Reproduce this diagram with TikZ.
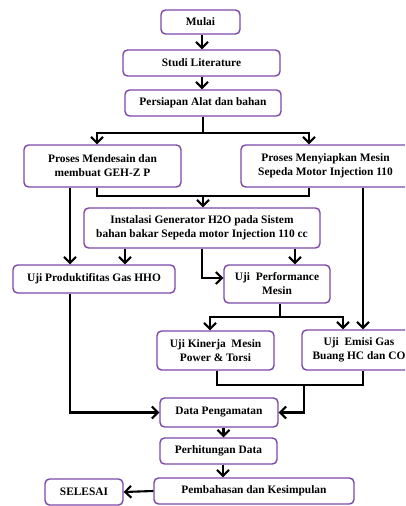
\documentclass[tikz,border=0pt]{standalone}
\usepackage{fontspec}
\setmainfont{Liberation Serif}
\usetikzlibrary{arrows.meta}
\definecolor{boxpurple}{HTML}{7D47A8}
\begin{document}
\begin{tikzpicture}[x=1pt,y=-1pt,
 box/.style={draw=boxpurple, line width=1.4pt, rounded corners=4.5pt, fill=white, align=center,
   font=\bfseries\fontsize{11.4}{14}\selectfont, inner sep=1pt},
 conn/.style={line width=2.1pt, -{Straight Barb[length=6pt,width=12pt,line width=2.1pt]}},
 plain/.style={line width=2.1pt}]
\clip (0,0) rectangle (405,506);
\useasboundingbox (0,0) rectangle (405,506);
\fill[white] (0,0) rectangle (405,506);

\node[box, minimum width=79pt, minimum height=24pt] (mulai) at (200.5,22) {Mulai};
\node[box, minimum width=157pt, minimum height=26pt] (studi) at (201.5,63) {Studi Literature};
\node[box, minimum width=156pt, minimum height=26pt] (persiapan) at (203,103) {Persiapan Alat dan bahan};
\node[box, minimum width=157pt, minimum height=42pt] (mendesain) at (102.5,166) {Proses Mendesain dan\\membuat GEH-Z P};
\node[box, minimum width=169pt, minimum height=42pt] (menyiapkan) at (325.5,166) {Proses Menyiapkan Mesin\\Sepeda Motor Injection 110};
\node[box, minimum width=236pt, minimum height=40pt] (instalasi) at (202,228) {Instalasi Generator H2O pada Sistem\\bahan bakar Sepeda motor Injection 110 cc};
\node[box, minimum width=162pt, minimum height=28pt] (produktif) at (94,279) {Uji Produktifitas Gas HHO};
\node[box, minimum width=106pt, minimum height=38pt] (perform) at (277,284) {Uji~ Performance\\Mesin};
\node[box, minimum width=117pt, minimum height=39pt] (kinerja) at (215.5,350.5) {Uji Kinerja~ Mesin\\Power \& Torsi};
\node[box, minimum width=114pt, minimum height=40pt] (emisi) at (359,350) {Uji~ Emisi Gas\\Buang HC dan CO};
\node[box, minimum width=118pt, minimum height=29pt] (data) at (219,412.5) {Data Pengamatan};
\node[box, minimum width=117pt, minimum height=26pt] (hitung) at (218.5,451) {Perhitungan Data};
\node[box, minimum width=200pt, minimum height=26pt] (bahas) at (254,491) {Pembahasan dan Kesimpulan};
\node[box, minimum width=78pt, minimum height=26pt] (selesai) at (84,492) {SELESAI};

\coordinate (s1) at (203,133);
\coordinate (m1) at (203,196);
\coordinate (p1) at (280,317);
\coordinate (j1) at (304,385);

\draw[conn] ([xshift=1.5pt]mulai.south) -- ([xshift=1.5pt]mulai.south |- studi.north);
\draw[conn] ([xshift=0.5pt]studi.south) -- ([xshift=0.5pt]studi.south |- persiapan.north);
\draw[plain] (persiapan.south) -- (s1);
\draw[conn] (s1) -| ([xshift=-5.5pt]mendesain.north);
\draw[conn] (s1) -| ([xshift=-16.5pt]menyiapkan.north);
\draw[plain] ([xshift=-5.5pt]mendesain.south) |- (m1) -| ([xshift=-16.5pt]menyiapkan.south);
\draw[conn] (m1) -- (m1 |- instalasi.north);
\draw[conn] ([xshift=-32.5pt]mendesain.south) -- ([xshift=-32.5pt]mendesain.south |- produktif.north);
\draw[conn] ([xshift=37.5pt]menyiapkan.south) -- ([xshift=37.5pt]menyiapkan.south |- emisi.north);
\draw[conn] ([xshift=-77pt]instalasi.south) -- ([xshift=-77pt]instalasi.south |- produktif.north);
\draw[conn] (instalasi.south) |- ([yshift=6pt]perform.west);
\draw[conn] ([xshift=18pt]perform.north |- instalasi.south) -- ([xshift=18pt]perform.north);
\draw[plain] ([xshift=3pt]perform.south) -- (p1);
\draw[conn] (p1) -| ([xshift=-5.5pt]kinerja.north);
\draw[conn] (p1) -| ([xshift=-16pt]emisi.north);
\draw[plain] ([xshift=1.5pt]kinerja.south) |- (j1) -| ([xshift=4pt]emisi.south);
\draw[conn] (j1) |- (data.east);
\draw[conn] ([xshift=-24pt]produktif.south) |- (data.west);
\draw[conn] ([xshift=4.5pt]data.south) -- ([xshift=4.5pt]data.south |- hitung.north);
\draw[conn] ([xshift=4.5pt]hitung.south) -- ([xshift=4.5pt]hitung.south |- bahas.north);
\draw[conn] (bahas.west) -- (selesai.east);
\end{tikzpicture}
\end{document}
